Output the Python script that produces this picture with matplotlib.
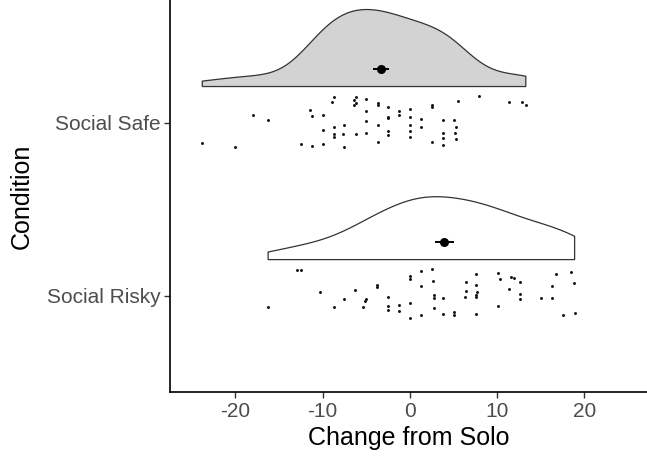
"""Raincloud plot: change from solo by social condition."""

import matplotlib
matplotlib.use("Agg")
import matplotlib.pyplot as plt
import numpy as np

# Data
conditions = ["Social Risky", "Social Safe"]

safe_change = [
    -23.8, -20.1, -18.0, -16.3, -12.5, -11.5, -11.2, -11.2, -10.0, -10.0,
    -10.0, -8.9, -8.75, -8.75, -8.75, -8.75, -7.7, -7.5, -7.5, -6.4,
    -6.2, -6.4, -6.2, -6.2, -5.0, -5.0, -5.0, -5.0, -3.7, -3.7,
    -3.7, -3.7, -2.45, -2.45, -2.45, -2.45, -2.45, -1.2, -1.2, 0.0,
    0.0, 0.0, 0.0, 0.0, 1.3, 1.3, 2.55, 2.6, 2.55, 3.8,
    3.8, 3.8, 3.8, 5.1, 5.35, 5.2, 5.35, 5.5, 7.9, 11.35,
    12.9, 13.3,
]
safe_jitter = [
    -0.117, -0.141, 0.044, 0.015, -0.121, 0.077, 0.039, -0.133, 0.048, -0.042,
    -0.121, 0.119, 0.150, -0.025, -0.066, -0.081, -0.064, -0.013, -0.139, 0.135,
    0.152, 0.104, 0.114, -0.064, 0.139, 0.071, 0.012, -0.060, 0.114, 0.105,
    -0.010, -0.108, 0.094, 0.035, 0.029, -0.048, -0.069, 0.071, 0.044, 0.079,
    0.035, -0.010, -0.046, -0.083, 0.025, -0.023, 0.104, 0.091, -0.108, 0.017,
    -0.060, -0.089, -0.127, 0.017, -0.025, -0.056, -0.094, 0.125, 0.154, 0.120,
    0.123, 0.106,
]

risky_change = [
    -16.25, -12.9, -12.5, -10.25, -8.75, -7.5, -6.25, -5.4, -5.1, -5.0,
    -3.8, -3.8, -2.55, -2.55, -2.5, -1.2, -1.2, 0.05, 0.05, 0.05,
    0.05, 1.3, 1.3, 1.3, 2.5, 2.65, 2.75, 2.8, 2.75, 3.8,
    3.8, 5.05, 5.05, 6.3, 6.45, 6.45, 7.55, 7.55, 7.7, 7.55,
    7.55, 7.55, 10.1, 10.35, 10.1, 11.35, 11.65, 11.95, 12.6, 12.6,
    12.6, 15.1, 16.3, 16.3, 16.8, 17.6, 18.5, 18.85, 18.9,
]
risky_jitter = [
    -0.062, 0.152, 0.152, 0.023, -0.062, -0.017, 0.035, -0.062, -0.031, -0.017,
    0.064, 0.054, -0.006, -0.056, -0.081, -0.054, -0.085, 0.116, 0.100, -0.040,
    -0.125, 0.146, 0.056, -0.110, 0.156, 0.085, 0.004, -0.010, -0.071, -0.010,
    -0.104, -0.091, -0.110, -0.006, 0.081, 0.031, 0.127, 0.064, 0.025, 0.006,
    -0.004, -0.106, 0.131, 0.096, -0.056, 0.042, 0.108, 0.104, 0.079, 0.010,
    -0.019, -0.012, 0.056, -0.010, 0.127, -0.108, 0.137, 0.073, -0.100,
]

series = [
    (np.array(risky_change), np.array(risky_jitter), "white"),
    (np.array(safe_change), np.array(safe_jitter), "#D3D3D3"),
]


def kde_nrd0(x, grid):
    sd = x.std(ddof=1)
    iqr = np.subtract(*np.percentile(x, [75, 25]))
    bw = 0.9 * min(sd, iqr / 1.34) * len(x) ** -0.2
    z = (grid[:, None] - x[None, :]) / bw
    return np.exp(-0.5 * z ** 2).sum(axis=1) / (len(x) * bw * np.sqrt(2 * np.pi))


plt.rcParams["font.family"] = ["Liberation Sans", "DejaVu Sans"]
plt.rcParams["axes.unicode_minus"] = False

fig = plt.figure(figsize=(6.47, 4.59), dpi=100)
ax = fig.add_axes([170 / 647, 67 / 459, 477 / 647, 392 / 459])

grids, dens = [], []
for vals, _, _ in series:
    g = np.linspace(vals.min(), vals.max(), 512)
    grids.append(g)
    dens.append(kde_nrd0(vals, g))
scale = 0.445 / max(d.max() for d in dens)

for i, (vals, jit, fill) in enumerate(series):
    pos = i + 1
    base = pos + 0.21
    g, d = grids[i], dens[i]
    xs = np.concatenate([[g[0]], g, [g[-1]]])
    ys = np.concatenate([[base], base + d * scale, [base]])
    ax.fill(xs, ys, facecolor=fill, edgecolor="#333333", linewidth=0.9, zorder=2)

    # raw points
    ax.scatter(vals, pos + jit, s=4.5, color="#111111", linewidths=0, zorder=3)

    # mean +/- standard error
    m = vals.mean()
    se = vals.std(ddof=1) / np.sqrt(len(vals))
    ax.errorbar(m, pos + 0.31, xerr=se, fmt="o", color="black", markersize=5.5,
                elinewidth=1.4, capsize=0, zorder=4)

ax.set_xlim(-27.5, 27.2)
ax.set_ylim(0.445, 2.71)
ax.set_xticks([-20, -10, 0, 10, 20])
ax.set_yticks([1, 2])
ax.set_yticklabels(conditions)
ax.tick_params(axis="both", labelsize=15, labelcolor="#4D4D4D", color="#333333",
               length=4, width=1.0, pad=3)
ax.set_xlabel("Change from Solo", fontsize=18, labelpad=4)
ax.set_ylabel("Condition", fontsize=18, labelpad=9)

for side in ["top", "right"]:
    ax.spines[side].set_visible(False)
for side in ["left", "bottom"]:
    ax.spines[side].set_linewidth(1.2)
    ax.spines[side].set_color("black")

fig.savefig("out.png", dpi=100)
